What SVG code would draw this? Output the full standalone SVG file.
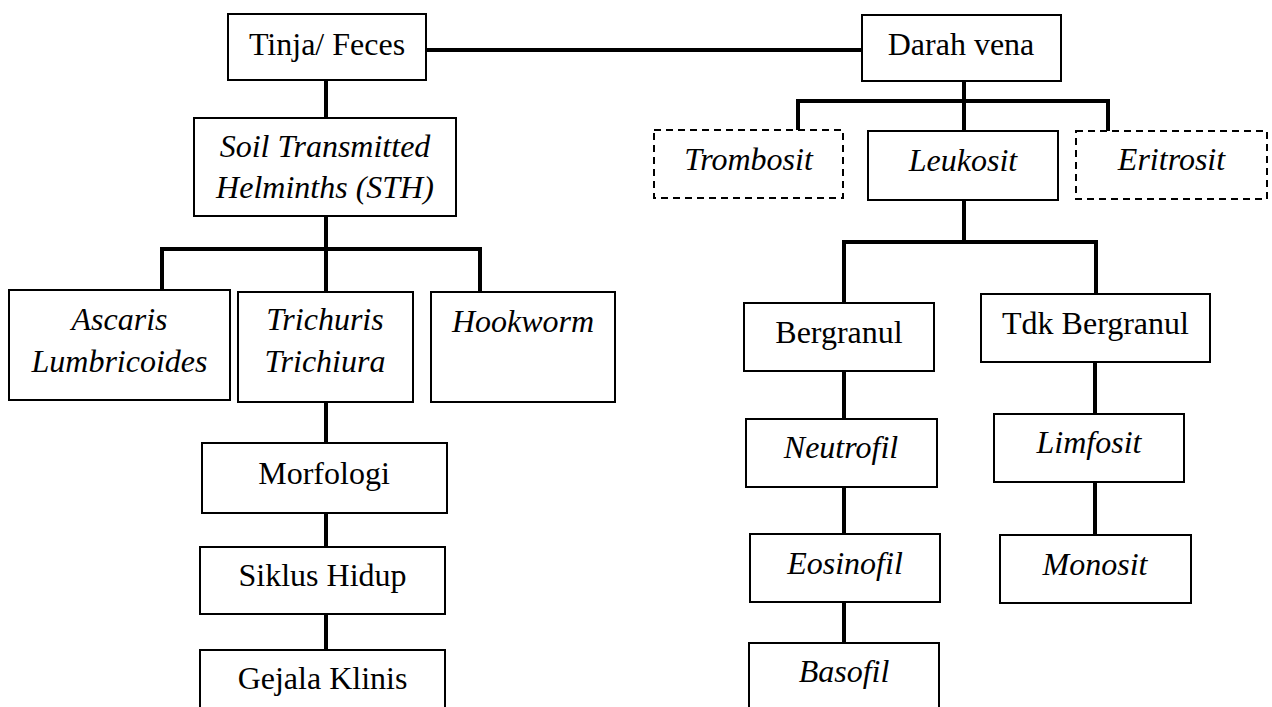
<svg xmlns="http://www.w3.org/2000/svg" width="1272" height="707" viewBox="0 0 1272 707">
<style>
.box{fill:#fff;stroke:#000;stroke-width:2}
.dash{fill:#fff;stroke:#000;stroke-width:2;stroke-dasharray:7 5}
.con{fill:none;stroke:#000;stroke-width:4;stroke-linecap:butt;stroke-linejoin:miter}
text{font-family:"Liberation Serif","Times New Roman",serif;font-size:32px;fill:#000;text-anchor:middle}
.it{font-style:italic}
</style>
<rect width="1272" height="707" fill="#fff"/>
<g id="connectors">
<path class="con" d="M426,50 H862"/>
<path class="con" d="M326,80 V118"/>
<path class="con" d="M326,216 V292"/>
<path class="con" d="M162,290 V249 H480 V292"/>
<path class="con" d="M326,402 V443"/>
<path class="con" d="M326,513 V547"/>
<path class="con" d="M326,614 V650"/>
<path class="con" d="M964,81 V131"/>
<path class="con" d="M798,130 V101 H1108 V131"/>
<path class="con" d="M964,200 V242"/>
<path class="con" d="M844,303 V242 H1096 V294"/>
<path class="con" d="M844,371 V419"/>
<path class="con" d="M844,487 V534"/>
<path class="con" d="M844,602 V643"/>
<path class="con" d="M1095,362 V414"/>
<path class="con" d="M1095,482 V535"/>
</g>
<g id="tinja"><rect class="box" x="228" y="14" width="198" height="66"/><text x="327" y="55">Tinja/ Feces</text></g>
<g id="darah"><rect class="box" x="862" y="15" width="199" height="66"/><text x="961" y="55">Darah vena</text></g>
<g id="sth"><rect class="box" x="194" y="118" width="262" height="98"/><text class="it" x="325" y="157">Soil Transmitted</text><text class="it" x="325" y="198">Helminths (STH)</text></g>
<g id="ascaris"><rect class="box" x="9" y="290" width="221" height="110"/><text class="it" x="119.5" y="330">Ascaris</text><text class="it" x="119.5" y="372">Lumbricoides</text></g>
<g id="trichuris"><rect class="box" x="238" y="292" width="175" height="110"/><text class="it" x="325" y="330">Trichuris</text><text class="it" x="325" y="372">Trichiura</text></g>
<g id="hookworm"><rect class="box" x="431" y="292" width="184" height="110"/><text class="it" x="523" y="332">Hookworm</text></g>
<g id="morfologi"><rect class="box" x="202" y="443" width="245" height="70"/><text x="324" y="484">Morfologi</text></g>
<g id="siklus"><rect class="box" x="200" y="547" width="245" height="67"/><text x="322.5" y="586">Siklus Hidup</text></g>
<g id="gejala"><rect class="box" x="200" y="650" width="245" height="80"/><text x="322.5" y="689">Gejala Klinis</text></g>
<g id="trombosit"><rect class="dash" x="654" y="130" width="189" height="68"/><text class="it" x="748.5" y="170">Trombosit</text></g>
<g id="leukosit"><rect class="box" x="868" y="131" width="190" height="69"/><text class="it" x="963" y="171">Leukosit</text></g>
<g id="eritrosit"><rect class="dash" x="1076" y="131" width="191" height="68"/><text class="it" x="1171.5" y="170">Eritrosit</text></g>
<g id="bergranul"><rect class="box" x="744" y="303" width="190" height="68"/><text x="839" y="343">Bergranul</text></g>
<g id="tdk"><rect class="box" x="981" y="294" width="229" height="68"/><text x="1095.5" y="334">Tdk Bergranul</text></g>
<g id="neutrofil"><rect class="box" x="746" y="419" width="191" height="68"/><text class="it" x="841" y="458">Neutrofil</text></g>
<g id="limfosit"><rect class="box" x="994" y="414" width="190" height="68"/><text class="it" x="1089" y="453">Limfosit</text></g>
<g id="eosinofil"><rect class="box" x="750" y="534" width="190" height="68"/><text class="it" x="845" y="574">Eosinofil</text></g>
<g id="monosit"><rect class="box" x="1000" y="535" width="191" height="68"/><text class="it" x="1095" y="575">Monosit</text></g>
<g id="basofil"><rect class="box" x="749" y="643" width="190" height="80"/><text class="it" x="844" y="682">Basofil</text></g>
</svg>
